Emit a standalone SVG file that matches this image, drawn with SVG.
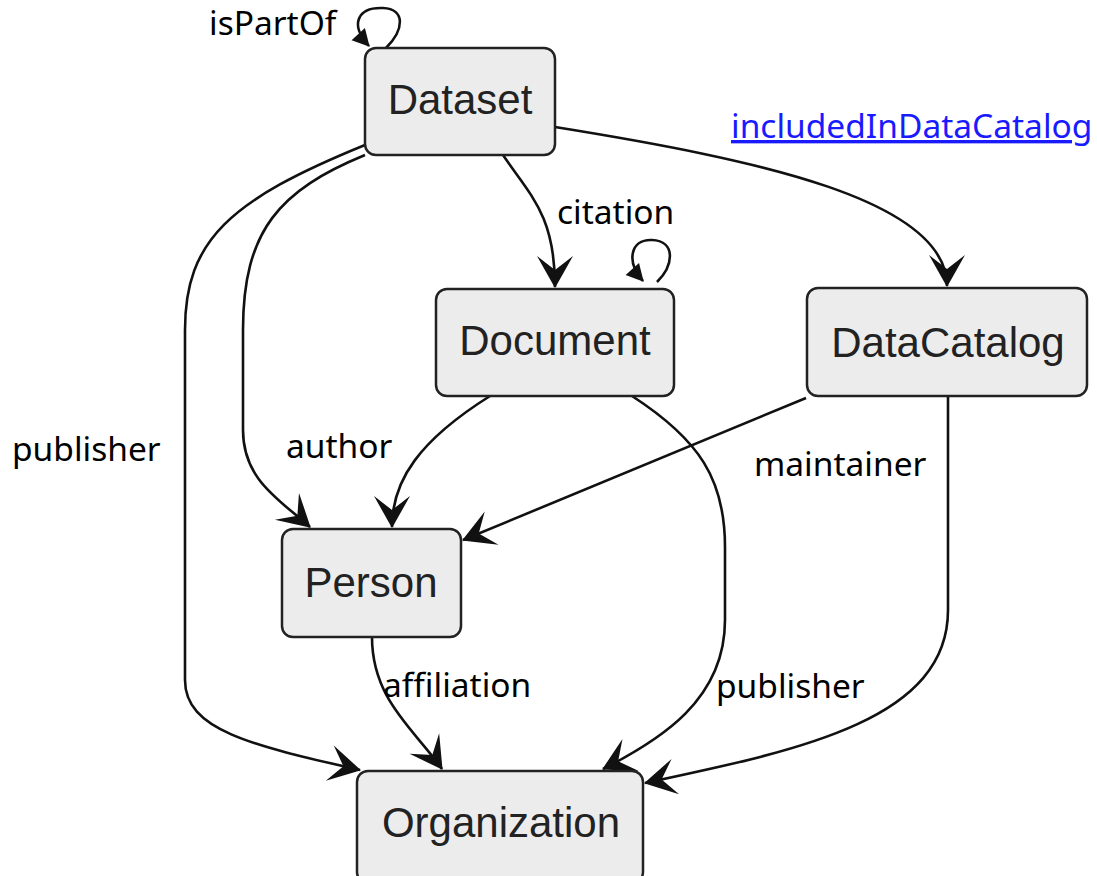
<svg xmlns="http://www.w3.org/2000/svg" width="1097" height="876" viewBox="0 0 1097 876">
<style>
.node rect{fill:#ececec;stroke:#222;stroke-width:2.5}
.node text{font-family:"Liberation Sans",Arial,sans-serif;font-size:42px;fill:#222;text-anchor:middle}
.edge{fill:none;stroke:#111;stroke-width:2.6}
.lbl{font-family:"Noto Sans","DejaVu Sans",sans-serif;font-size:33.5px;fill:#000}
.link{font-family:"Noto Sans","DejaVu Sans",sans-serif;font-size:33.5px;fill:#1a1aff;text-decoration:underline}
</style>
<defs>
<marker id="vee" markerUnits="userSpaceOnUse" orient="auto" refX="0" refY="0" markerWidth="70" markerHeight="70" overflow="visible">
<path d="M1,0 L-31,-18 L-17,0 L-31,18 Z" fill="#111"/>
</marker>
<marker id="tri" markerUnits="userSpaceOnUse" orient="auto" refX="0" refY="0" markerWidth="30" markerHeight="30" overflow="visible">
<path d="M1,0 L-16,-9 L-16,9 Z" fill="#111"/>
</marker>
</defs>
<rect width="1097" height="876" fill="#fff"/>
<g id="connectors">
<path class="edge" d="M386,48 C404,30 406,9 383,8 C358,7 349,24 369,46" marker-end="url(#tri)"/>
<path class="edge" d="M657,282 C674,265 676,241 652,240 C630,239 626,262 643,281" marker-end="url(#tri)"/>
<path class="edge" d="M503,155 C530,195 555,215 555,287" marker-end="url(#vee)"/>
<path class="edge" d="M555,127 C760,160 947,200 947,286" marker-end="url(#vee)"/>
<path class="edge" d="M365,145 C230,200 185,240 185,330 L185,680 C185,730 250,745 360,770" marker-end="url(#vee)"/>
<path class="edge" d="M365,155 C280,190 243,230 243,330 L243,430 C243,480 280,500 310,527" marker-end="url(#vee)"/>
<path class="edge" d="M490,396 C420,440 392,480 392,527" marker-end="url(#vee)"/>
<path class="edge" d="M806,398 L463,540" marker-end="url(#vee)"/>
<path class="edge" d="M632,396 C700,440 725,480 725,547 L725,620 C725,700 660,740 603,769" marker-end="url(#vee)"/>
<path class="edge" d="M948,397 L948,610 C948,720 800,750 645,783" marker-end="url(#vee)"/>
<path class="edge" d="M372,637 C372,700 415,730 442,769" marker-end="url(#vee)"/>
</g>
<g id="labels">
<text class="lbl" x="209" y="35">isPartOf</text>
<text class="lbl" x="557" y="224">citation</text>
<text class="link" x="731" y="138">includedInDataCatalog</text>
<text class="lbl" x="12" y="461">publisher</text>
<text class="lbl" x="286" y="458">author</text>
<text class="lbl" x="754" y="476">maintainer</text>
<text class="lbl" x="383" y="697">affiliation</text>
<text class="lbl" x="716" y="698">publisher</text>
</g>
<g id="node-dataset" class="node"><rect x="365" y="48" width="190" height="107" rx="11"/><text x="460" y="114">Dataset</text></g>
<g id="node-document" class="node"><rect x="436" y="289" width="238" height="107" rx="11"/><text x="555" y="355">Document</text></g>
<g id="node-datacatalog" class="node"><rect x="807" y="288" width="280" height="108" rx="11"/><text x="948" y="357">DataCatalog</text></g>
<g id="node-person" class="node"><rect x="282" y="529" width="179" height="108" rx="11"/><text x="371" y="597">Person</text></g>
<g id="node-organization" class="node"><rect x="357" y="771" width="286" height="112" rx="11"/><text x="501" y="837">Organization</text></g>
</svg>
